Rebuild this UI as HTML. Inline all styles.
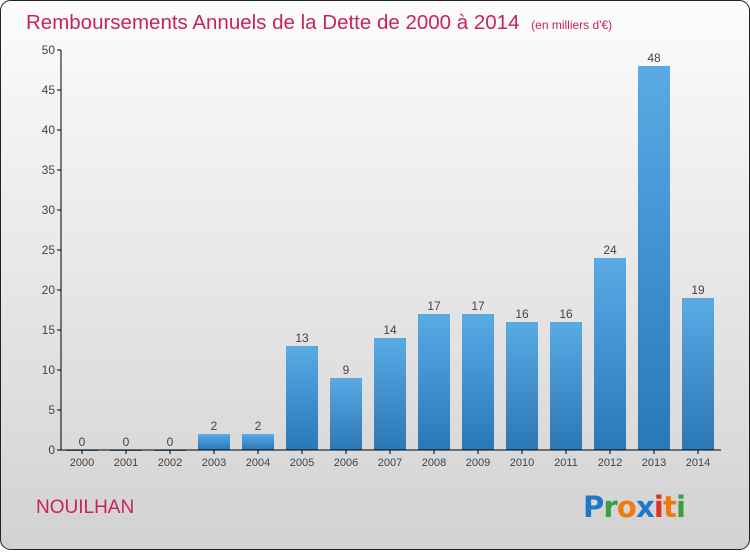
<!DOCTYPE html>
<html><head><meta charset="utf-8"><style>
body{margin:0;width:750px;height:550px;overflow:hidden;font-family:"Liberation Sans",sans-serif}
</style></head><body>
<svg width="750" height="550" xmlns="http://www.w3.org/2000/svg">
<defs>
<linearGradient id="bg" x1="0" y1="0" x2="0" y2="1"><stop offset="0" stop-color="#fcfcfc"/><stop offset="1" stop-color="#d2d2d2"/></linearGradient>
<linearGradient id="bar" x1="0" y1="0" x2="0" y2="1"><stop offset="0" stop-color="#5aaae6"/><stop offset="1" stop-color="#2a78b6"/></linearGradient>
</defs>
<rect x="0.5" y="0.5" width="749" height="549" rx="10" fill="url(#bg)" stroke="#222"/>
<text x="26" y="29" font-size="20.5" fill="#c8245a">Remboursements Annuels de la Dette de 2000 à 2014 <tspan font-size="12" dx="6">(en milliers d'€)</tspan></text>
<g id="plot"></g>
<text x="36" y="513" font-size="19" fill="#c8245a">NOUILHAN</text>
<g font-size="29" font-weight="bold">
<text x="583" y="517" font-family="'DejaVu Sans',sans-serif" fill="#1e78c8" textLength="103">P<tspan fill="#3aa040">r</tspan><tspan fill="#f07a10">o</tspan><tspan fill="#1e78c8">x</tspan><tspan fill="#e03020">i</tspan><tspan fill="#f07a10">t</tspan><tspan fill="#3aa040">i</tspan></text>
</g>
</svg>
<script>
const years=["2000","2001","2002","2003","2004","2005","2006","2007","2008","2009","2010","2011","2012","2013","2014"];
const values=[0,0,0,2,2,13,9,14,17,17,16,16,24,48,19];
const yTicks=[0,5,10,15,20,25,30,35,40,45,50];
const NS="http://www.w3.org/2000/svg",g=document.getElementById('plot');
const x0=61,x1=721,yb=450,yt=50,yMax=50;
const step=44,off=21;
const Y=v=>yb-(v/yMax)*(yb-yt);
const X=i=>x0+off+i*step;
function mk(t,a){const e=document.createElementNS(NS,t);for(const k in a)e.setAttribute(k,a[k]);g.appendChild(e);return e;}
values.forEach((v,i)=>{
 const r=mk('rect',{x:X(i)-16,y:Y(v),width:32,height:Math.max(yb-Y(v),1),fill:'url(#bar)'});
 
 
 const t=mk('text',{x:X(i),y:Y(v)-4,'text-anchor':'middle','font-size':12,fill:'#444'});t.textContent=v;
 
 
 const tk=mk('line',{x1:X(i),x2:X(i),y1:yb,y2:yb+4,stroke:'#000'});
 
 
 const l=mk('text',{x:X(i),y:yb+16,'text-anchor':'middle','font-size':11,fill:'#444'});l.textContent=years[i];
 
 
});
yTicks.forEach(v=>{
 const tk=mk('line',{x1:x0-4,x2:x0,y1:Y(v),y2:Y(v),stroke:'#000'});
 
 
 const l=mk('text',{x:x0-6,y:Y(v)+4,'text-anchor':'end','font-size':12,fill:'#444'});l.textContent=v;
 
 
});
const ya=mk('line',{x1:x0,x2:x0,y1:yt,y2:yb,stroke:'#000'});


const xa=mk('line',{x1:x0,x2:x1,y1:yb,y2:yb,stroke:'#000'});


</script>
</body></html>
